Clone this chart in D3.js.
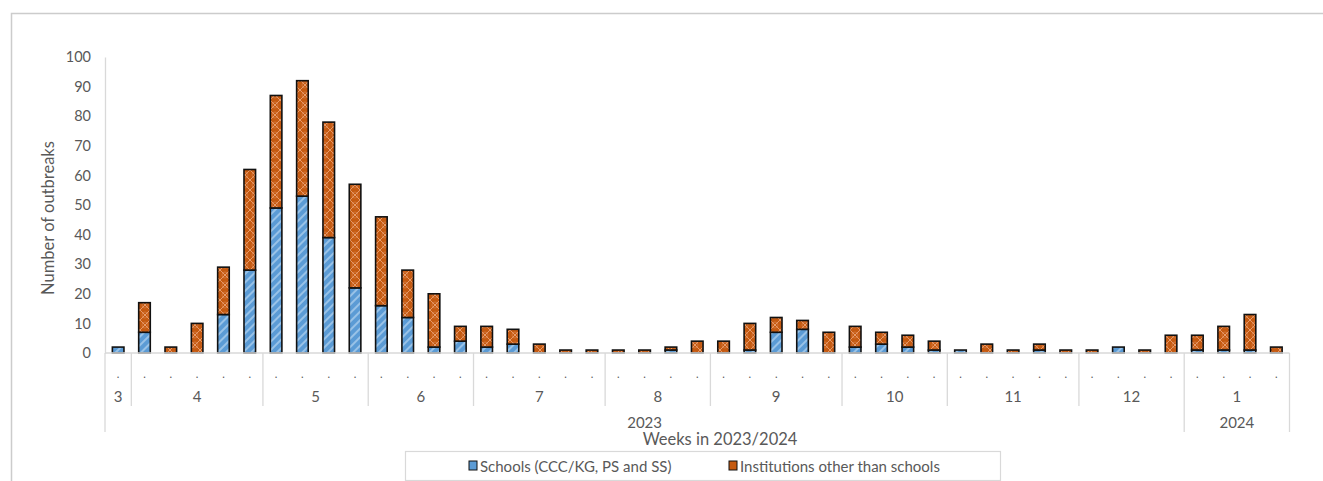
<!DOCTYPE html>
<html>
<head>
<meta charset="utf-8">
<script src="https://cdn.jsdelivr.net/npm/d3@7/dist/d3.min.js"></script>
<style>
  html, body { margin: 0; padding: 0; background: #fff; }
  svg { display: block; }
  text { font-family: Lato, "Open Sans", sans-serif; fill: #595959; }
</style>
</head>
<body>
<svg id="chart" width="1323" height="481"></svg>
<script>
// ---- data ----
const weekLabels = [".",".",".",".",".",".",".",".",".",".",".",".",".",".",".",
                    ".",".",".",".",".",".",".",".",".",".",".",".",".",".",".",
                    ".",".",".",".",".",".",".",".",".",".",".",".",".",".","."];
const months = ["3","4","5","6","7","8","9","10","11","12","1"];
const monthCounts = [1,5,4,4,5,4,5,4,5,4,4];
const years = ["2023","2024"];
const yearCounts = [41,4];
const schools = [2,7,0,0,13,28,49,53,39,22,16,12,2,4,2,3,0,0,0,0,0,1,0,0,1,7,8,0,2,3,2,1,1,0,0,1,0,0,2,0,0,1,1,1,0];
const others  = [0,10,2,10,16,34,38,39,39,35,30,16,18,5,7,5,3,1,1,1,1,1,4,4,9,5,3,7,7,4,4,3,0,3,1,2,1,1,0,1,6,5,8,12,2];
const seriesNames = ["Schools (CCC/KG, PS and SS)", "Institutions other than schools"];
const yTicks = [0,10,20,30,40,50,60,70,80,90,100];

(function () {
// ---- layout ----
const svg = d3.select("#chart");
const pL = 105, pR = 1289.5, pT = 57, pB = 353;
const axisGray = "#d9d9d9";

// outer border
svg.append("path").attr("d", "M11.5,481 V13.5 H1323")
  .attr("fill", "none").attr("stroke", "#cccccc").attr("stroke-width", 1.5);

// patterns
const defs = svg.append("defs");
const pb = defs.append("pattern").attr("id", "pBlue").attr("patternUnits", "userSpaceOnUse")
  .attr("width", 6).attr("height", 6).attr("patternTransform", "rotate(45)");
pb.append("rect").attr("width", 6).attr("height", 6).attr("fill", "#5B9BD5");
pb.append("line").attr("x1", 1).attr("y1", 0).attr("x2", 1).attr("y2", 6)
  .attr("stroke", "#A8CCEC").attr("stroke-width", 1.6);
const po = defs.append("pattern").attr("id", "pOrange").attr("patternUnits", "userSpaceOnUse")
  .attr("width", 10).attr("height", 10);
po.append("rect").attr("width", 10).attr("height", 10).attr("fill", "#C55A11");
po.append("path").attr("d", "M0,0 L10,10 M10,0 L0,10")
  .attr("stroke", "#E9A274").attr("stroke-width", 0.9).attr("fill", "none");
po.append("circle").attr("cx", 5).attr("cy", 5).attr("r", 3)
  .attr("stroke", "#DB854F").attr("stroke-width", 0.6).attr("fill", "none");

// scales
const idx = d3.range(weekLabels.length);
const x = d3.scaleBand().domain(idx).range([pL, pR]).paddingInner(0.56).paddingOuter(0.28);
const xPos = d3.scaleLinear().domain([0, weekLabels.length]).range([pL, pR]);
const y = d3.scaleLinear().domain([0, 100]).range([pB, pT]);

// y axis
const yAxis = svg.append("g").attr("transform", `translate(${pL},0)`)
  .call(d3.axisLeft(y).tickValues(yTicks).tickSize(0).tickPadding(14));
yAxis.select(".domain").attr("stroke", axisGray).attr("stroke-width", 1.3);
yAxis.selectAll("text").style("font-size", "14.5px").style("fill", "#595959")
  .style("font-family", "Lato, sans-serif");

svg.append("text").attr("transform", `translate(54,${(pT + pB) / 2 + 13}) rotate(-90)`)
  .attr("text-anchor", "middle").style("font-size", "16.5px").text("Number of outbreaks");

// stacked bars
const rows = idx.map(i => ({ i, schools: schools[i], others: others[i] }));
const stack = d3.stack().keys(["schools", "others"])(rows);
const fills = ["url(#pBlue)", "url(#pOrange)"];
stack.forEach((layer, k) => {
  svg.append("g").selectAll("rect")
    .data(layer.filter(d => d[1] - d[0] > 0))
    .join("rect")
    .attr("x", d => x(d.data.i))
    .attr("width", x.bandwidth())
    .attr("y", d => y(d[1]))
    .attr("height", d => y(d[0]) - y(d[1]))
    .attr("fill", fills[k])
    .attr("stroke", "#111")
    .attr("stroke-width", 1.6);
});

// category axis (multi-level)
const ax = svg.append("g").attr("stroke", axisGray).attr("stroke-width", 1.3);
ax.append("line").attr("x1", pL).attr("x2", pR).attr("y1", pB).attr("y2", pB);
let cum = 0;
const monthBounds = [0];
monthCounts.forEach(c => { cum += c; monthBounds.push(cum); });
let ycum = 0;
const yearBounds = [0];
yearCounts.forEach(c => { ycum += c; yearBounds.push(ycum); });
monthBounds.forEach(b => {
  const long = yearBounds.includes(b);
  ax.append("line").attr("x1", xPos(b)).attr("x2", xPos(b))
    .attr("y1", pB).attr("y2", long ? 432 : 406);
});

// week labels
svg.append("g").selectAll("text").data(idx).join("text")
  .attr("x", i => x(i) + x.bandwidth() / 2).attr("y", 373)
  .attr("text-anchor", "middle").attr("dominant-baseline", "central")
  .style("font-size", "11px").text(i => weekLabels[i]);

// month labels
svg.append("g").selectAll("text").data(months).join("text")
  .attr("x", (d, k) => (xPos(monthBounds[k]) + xPos(monthBounds[k + 1])) / 2)
  .attr("y", 396).attr("text-anchor", "middle").attr("dominant-baseline", "central")
  .style("font-size", "15px").text(d => d);

// year labels
svg.append("g").selectAll("text").data(years).join("text")
  .attr("x", (d, k) => (xPos(yearBounds[k]) + xPos(yearBounds[k + 1])) / 2)
  .attr("y", 422).attr("text-anchor", "middle").attr("dominant-baseline", "central")
  .style("font-size", "15px").text(d => d);

// x title
svg.append("text").attr("x", 720).attr("y", 439).attr("text-anchor", "middle")
  .attr("dominant-baseline", "central").style("font-size", "16.5px").text("Weeks in 2023/2024");

// legend
svg.append("rect").attr("x", 405.5).attr("y", 451.5).attr("width", 595).attr("height", 29)
  .attr("fill", "#fff").attr("stroke", axisGray).attr("stroke-width", 1.2);
const legX = [469, 729];
const legFill = ["#5B9BD5", "#C55A11"];
seriesNames.forEach((name, k) => {
  svg.append("rect").attr("x", legX[k]).attr("y", 461).attr("width", 8).attr("height", 9)
    .attr("fill", legFill[k]).attr("stroke", "#111").attr("stroke-width", 1);
  svg.append("text").attr("x", legX[k] + 11).attr("y", 466).attr("dominant-baseline", "central")
    .style("font-size", "15px").text(name);
});
})();
</script>
</body>
</html>
